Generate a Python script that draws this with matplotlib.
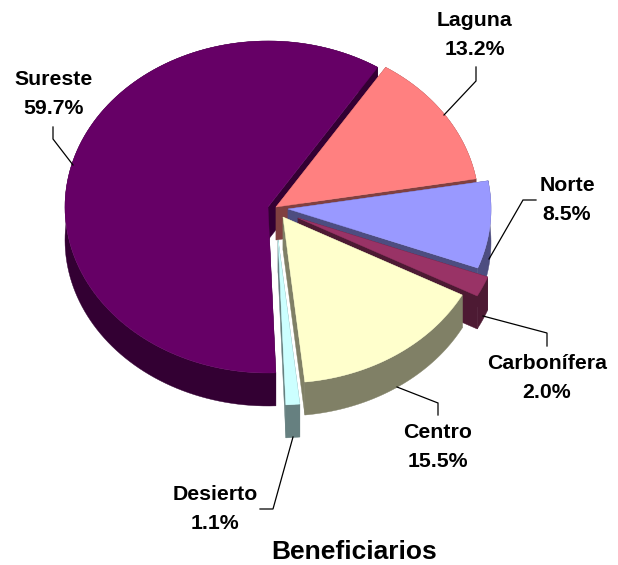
"""Exploded 3D-look pie of beneficiaries by region."""

import matplotlib

matplotlib.use("Agg")
import matplotlib.pyplot as plt
import numpy as np
from matplotlib.patches import Polygon

plt.rcParams["font.family"] = ["Liberation Sans", "DejaVu Sans"]

regions = ["Sureste", "Desierto", "Centro", "Carbonífera", "Norte", "Laguna"]
shares = [59.7, 1.1, 15.5, 2.0, 8.5, 13.2]
title = "Beneficiarios"

top_colors = ["#660066", "#CCFFFF", "#FFFFCC", "#993366", "#9999FF", "#FF8080"]
side_colors = ["#330033", "#668080", "#808066", "#4D1A33", "#4D4D80", "#804040"]
# apex of each slice, pixels
apex = [(268, 207), (278, 239), (283, 217), (298, 218), (288, 209), (276, 207)]
draw_order = [0, 1, 5, 4, 3, 2]

label_pos = [(53.5, 94), (215, 509), (438, 447), (547, 378), (567, 200), (475, 35)]
leaders = [
    [(53, 127), (53, 139), (73, 165)],
    [(260, 509), (273, 509), (293, 437)],
    [(438, 415), (438, 403), (397, 387)],
    [(547, 346), (547, 333), (483, 316)],
    [(536, 200), (523, 200), (489, 259)],
    [(476, 67), (476, 81), (444, 115)],
]

RX, RY, DEPTH = 203, 166, 33
START = 57.3


def edge(center, deg):
    t = np.radians(deg)
    return np.column_stack([center[0] + RX * np.cos(t), center[1] - RY * np.sin(t)])


def draw_slice(ax, center, a0, a1, top, side):
    angles = np.linspace(a0, a1, 120)
    arc = edge(center, angles)
    down = np.array([0, DEPTH])
    apex_pt = np.array(center, dtype=float)
    for rim in (arc[0], arc[-1]):
        wall = [apex_pt, rim, rim + down, apex_pt + down]
        ax.add_patch(Polygon(wall, fc=side, ec=side, lw=0.3))
    ax.add_patch(Polygon(np.vstack([arc, (arc + down)[::-1]]), fc=side, ec=side, lw=0.3))
    ax.add_patch(Polygon(np.vstack([apex_pt, arc]), fc=top, ec=top, lw=0.3))


fig = plt.figure(figsize=(6.18, 5.65), dpi=100, facecolor="white")
ax = fig.add_axes([0, 0, 1, 1])
ax.set_xlim(0, 618)
ax.set_ylim(565, 0)
ax.axis("off")

spans = np.array(shares) / sum(shares) * 360
starts = START + np.concatenate([[0], np.cumsum(spans)[:-1]])

for line in leaders:
    xs, ys = zip(*line)
    ax.plot(xs, ys, color="black", lw=0.9, solid_joinstyle="miter")

for i in draw_order:
    draw_slice(ax, apex[i], starts[i], starts[i] + spans[i], top_colors[i], side_colors[i])

for name, share, (x, y) in zip(regions, shares, label_pos):
    ax.text(x, y, f"{name}\n{share:.1f}%", ha="center", va="center", fontsize=15.3,
            fontweight="bold", color="black", linespacing=1.62)

ax.text(354, 552, title, ha="center", va="center", fontsize=19, fontweight="bold")

fig.savefig("out.png", dpi=100, facecolor="white")
plt.close(fig)
